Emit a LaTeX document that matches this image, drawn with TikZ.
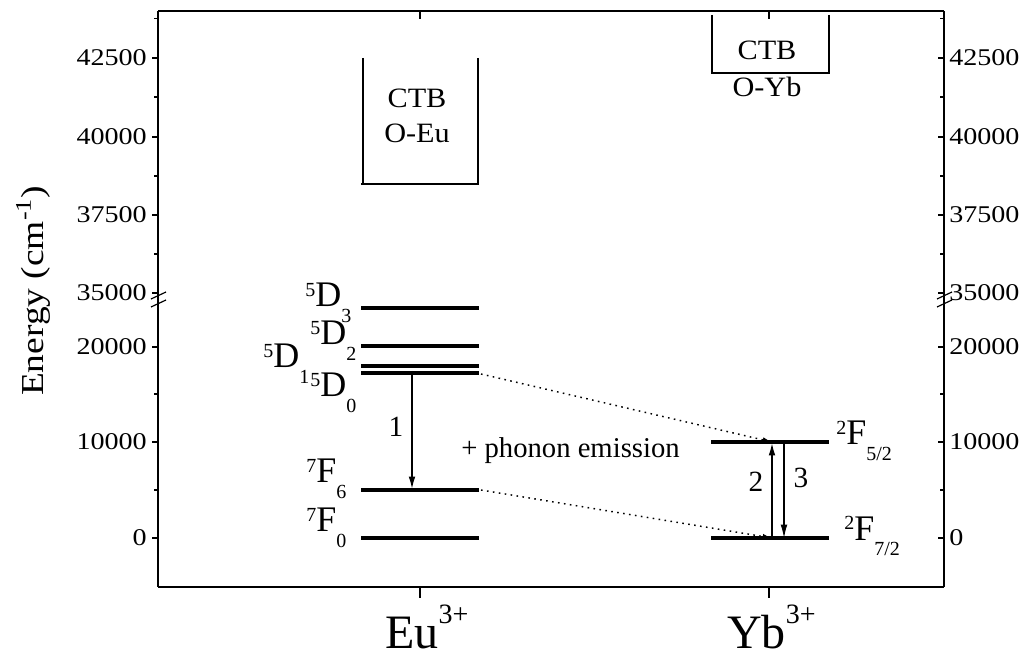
\documentclass[tikz,border=0pt]{standalone}
\usepackage{fontspec}
\setmainfont{Liberation Serif}
\newfontfamily\axisfont[FakeStretch=1.17]{Liberation Serif}
\newfontfamily\boxfont[FakeStretch=1.08]{Liberation Serif}
\usetikzlibrary{arrows.meta,positioning,calc}

% term symbol: upper-left index, letter, lower index
\newcommand{\term}[3]{\raisebox{0.3em}{\fontsize{15}{15}\selectfont #1}#2\raisebox{-0.42em}{\fontsize{15}{15}\selectfont #3}}

\tikzset{
  lvl/.style={line width=2.3pt},
  frame/.style={line width=1.5pt},
  side/.style={line width=0.9pt},
  wall/.style={line width=1.1pt},
  ticklbl/.style={font=\axisfont\fontsize{18}{18}\selectfont,inner sep=0pt},
  boxlbl/.style={font=\boxfont\fontsize{21}{21}\selectfont,inner sep=0pt},
  termlbl/.style={font=\fontsize{27}{27}\selectfont,inner sep=0pt,anchor=base west},
  ionlbl/.style={font=\fontsize{36}{36}\selectfont,inner sep=0pt,anchor=base west},
  numlbl/.style={font=\fontsize{22}{22}\selectfont,inner sep=0pt},
  trans/.style={-{Latex[length=10pt,width=5pt]}},
  transfer/.style={-{Latex[length=7pt,width=4pt]},line width=1.1pt,
                   dash pattern=on 1.2pt off 3.3pt},
}

\begin{document}
\begin{tikzpicture}[x=0.75pt,y=-0.75pt]
    \useasboundingbox (0,0) rectangle (1029,659);

    % ── frame ────────────────────────────────────────────
    \draw[frame] (158,11) -- (944,11);
    \draw[frame] (158,587) -- (944,587);
    \draw[side] (158,11) -- (158,587);
    \draw[side] (944,11) -- (944,587);

    % energy ticks, both sides
    \foreach \y/\t in {58/42500,137/40000,215/37500,293/35000,347/20000,442/10000,538/0}{
      \draw[side] (152,\y) -- (158,\y);
      \draw[side] (938,\y) -- (944,\y);
      \node[ticklbl,anchor=east] (l\t) at (147,\y) {\t};
      \node[ticklbl,anchor=west] (r\t) at (949,\y) {\t};
    }
    \foreach \y in {18.5,97,176,254,394,490}{
      \draw[side] (154,\y) -- (158,\y);
      \draw[side] (940,\y) -- (944,\y);
    }
    % axis break
    \foreach \x in {158,944}{
      \draw[side] (\x-7,299) -- (\x+8,292);
      \draw[side] (\x-7,307) -- (\x+8,300);
    }
    % ion ticks
    \foreach \x in {420,769}{
      \draw[frame] (\x,11) -- (\x,19);
      \draw[frame] (\x,587) -- (\x,598);
    }

    \node[font=\axisfont\fontsize{24}{24}\selectfont,rotate=90,anchor=base,inner sep=0pt]
          (ylab) at (43,291) {Energy (cm\textsuperscript{-1})};
    \node[ionlbl] (eu) at (385,648) {Eu\raisebox{0.52em}{\fontsize{21}{21}\selectfont 3+}};
    \node[ionlbl] (yb) at (727,648) {Yb\raisebox{0.52em}{\fontsize{21}{21}\selectfont 3+}};

    % ── Eu3+ ─────────────────────────────────────────────
    \draw[wall] (363,58) -- (363,184);
    \draw[wall] (478,58) -- (478,184);
    \draw[frame] (361,184) -- (479,184);
    \node[boxlbl] (ctbEu) at (417,98) {CTB};
    \node[boxlbl] (oEu) at (417,133) {O-Eu};

    \foreach \y in {308,346,366,373,490,538}{
      \draw[lvl] (361,\y) -- (479,\y);
    }
    \node[termlbl] (D3) at (305,307) {\term{5}{D}{3}};
    \node[termlbl] (D2) at (310,345) {\term{5}{D}{2}};
    \node[termlbl] (D1) at (263,368) {\term{5}{D}{1}};
    \node[termlbl] (D0) at (310,397) {\term{5}{D}{0}};
    \node[termlbl] (F6) at (306,483) {\term{7}{F}{6}};
    \node[termlbl] (F0) at (306,532) {\term{7}{F}{0}};

    % ── Yb3+ ─────────────────────────────────────────────
    \draw[wall] (712,15) -- (712,73);
    \draw[wall] (829,15) -- (829,73);
    \draw[frame] (711,73) -- (830,73);
    \node[boxlbl] (ctbYb) at (767,50) {CTB};
    \node[boxlbl] (oYb) at (767,87) {O-Yb};

    \foreach \y in {442,538}{
      \draw[lvl] (711,\y) -- (829,\y);
    }
    \node[termlbl] (F52) at (836,445) {\term{2}{F}{5/2}};
    \node[termlbl] (F72) at (844,540) {\term{2}{F}{7/2}};

    % ── transitions ──────────────────────────────────────
    \coordinate (euTop) at (412,371);
    \coordinate (euBot) at (412,490);
    \coordinate (euD0r) at (481,374);
    \coordinate (euF6r) at (481,490);
    \coordinate (ybTopA) at (772,442);
    \coordinate (ybBotA) at (772,538);
    \coordinate (ybTopB) at (784,442);
    \coordinate (ybBotB) at (784,538);

    \draw[trans,line width=1.6pt] (euTop) -- (euBot);
    \node[numlbl] (n1) at (396,427) {1};
    \draw[transfer] (euD0r) -- (ybTopA);
    \draw[transfer] (euF6r) -- (ybBotA);
    \node[font=\fontsize{21.5}{21.5}\selectfont,anchor=base west,inner sep=0pt]
          (phon) at (461,457) {+ phonon emission};
    \draw[trans,line width=1.6pt] (ybBotA) -- (ybTopA);
    \draw[trans,line width=0.8pt] (ybTopB) -- (ybBotB);
    \node[numlbl] (n2) at (756,482) {2};
    \node[numlbl] (n3) at (801,478) {3};

\end{tikzpicture}
\end{document}
